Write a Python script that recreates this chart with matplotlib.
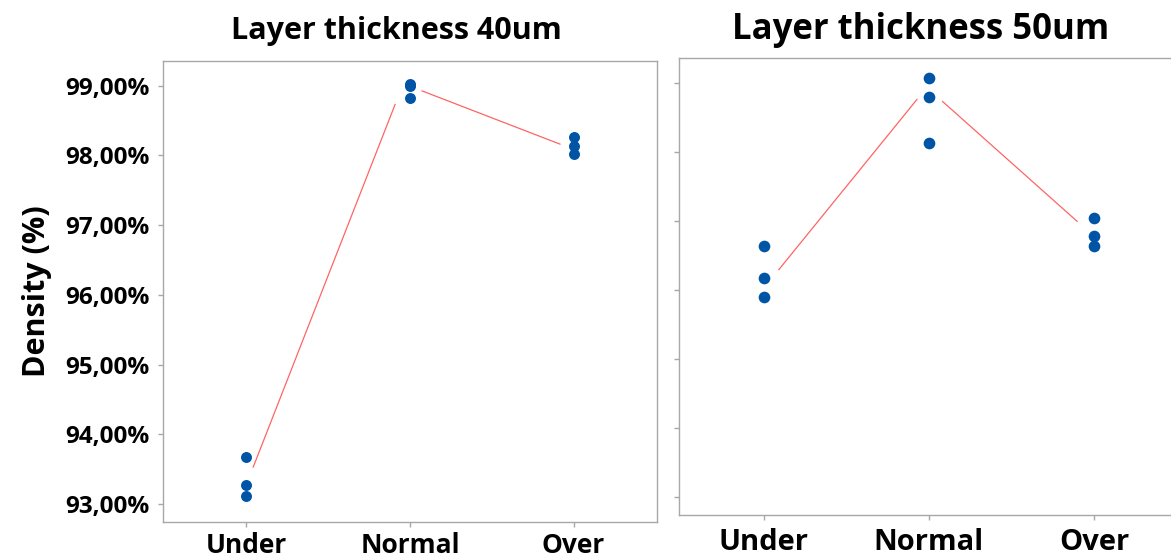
import matplotlib
matplotlib.use("Agg")
import matplotlib.pyplot as plt

# Process categories on the x axis
categories = ["Under", "Normal", "Over"]

# Measured density (%) per specimen, layer thickness 40 um
under_40 = [93.67, 93.27, 93.11]
normal_40 = [99.02, 98.99, 98.83]
over_40 = [98.27, 98.13, 98.02]

# Measured density (%) per specimen, layer thickness 50 um
under_50 = [96.64, 96.18, 95.90]
normal_50 = [99.07, 98.80, 98.13]
over_50 = [97.04, 96.79, 96.64]

# Trend segments drawn between the groups (category index, density)
trend_40_x = [[0.04, 0.91], [1.07, 1.92]]
trend_40_y = [[93.52, 98.74], [98.93, 98.16]]
trend_50_x = [[0.09, 0.93], [1.08, 1.90]]
trend_50_y = [[96.29, 98.77], [98.74, 96.99]]

y_ticks = [93, 94, 95, 96, 97, 98, 99]
y_tick_labels = [f"{v:.2f}".replace(".", ",") + "%" for v in y_ticks]

FONT = "Open Sans"
DOT = "#0054a6"
TREND = "#ff6464"
SPINE = "#a8a8a8"

fig = plt.figure(figsize=(11.71, 5.58), dpi=100)
ax1 = fig.add_axes([0.1392, 0.0645, 0.4219, 0.8267])
ax2 = fig.add_axes([0.5801, 0.0771, 0.4263, 0.8184])


def draw_panel(ax, groups, tx, ty, msize, xlabel_size):
    for xs, ys in zip(tx, ty):
        ax.plot(xs, ys, color=TREND, lw=0.9, solid_capstyle="butt", zorder=2)
    for i, vals in enumerate(groups):
        ax.plot([i] * len(vals), vals, "o", color=DOT, ms=msize,
                markeredgewidth=0, zorder=3)
    ax.set_xlim(-0.51, 2.51)
    ax.set_ylim(92.74, 99.36)
    ax.set_xticks(range(len(categories)))
    ax.set_xticklabels(categories, fontsize=xlabel_size, fontweight="bold",
                       family=FONT)
    ax.set_yticks(y_ticks)
    for s in ax.spines.values():
        s.set_color(SPINE)
        s.set_linewidth(1.0)
    ax.tick_params(axis="both", direction="out", color=SPINE, width=1.0,
                   length=3.5)
    ax.tick_params(axis="x", pad=4)


draw_panel(ax1, [under_40, normal_40, over_40], trend_40_x, trend_40_y,
           7.9, 19)
ax1.set_yticklabels(y_tick_labels, fontsize=17.5, fontweight="bold",
                    family=FONT)
ax1.tick_params(axis="y", pad=6)
ax1.set_ylabel("Density (%)", fontsize=22, fontweight="bold", family=FONT,
               labelpad=10)

draw_panel(ax2, [under_50, normal_50, over_50], trend_50_x, trend_50_y,
           8.4, 21)
ax2.set_yticklabels([])
ax2.spines["right"].set_visible(False)
ax2.tick_params(axis="x", pad=6)

fig.text(0.3386, 0.930, "Layer thickness 40um", fontsize=22,
         fontweight="bold", family=FONT, ha="center", va="baseline")
fig.text(0.7865, 0.930, "Layer thickness 50um", fontsize=25,
         fontweight="bold", family=FONT, ha="center", va="baseline")

fig.savefig("out.png", dpi=100)
